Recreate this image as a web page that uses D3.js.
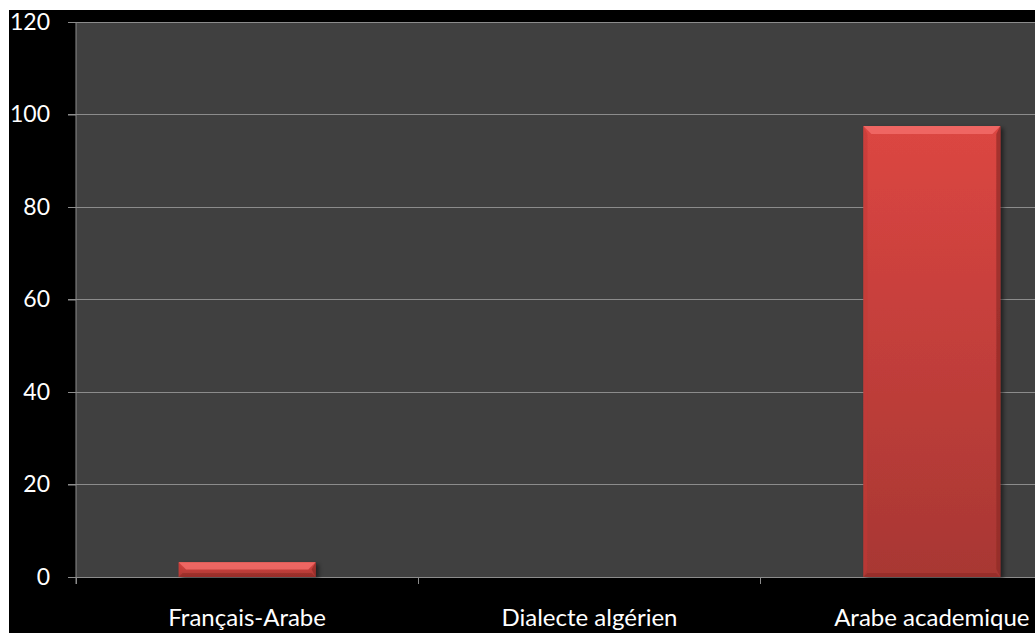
<!DOCTYPE html>
<html><head><meta charset="utf-8">
<script src="https://cdn.jsdelivr.net/npm/d3@7/dist/d3.min.js"></script>
<style>html,body{margin:0;padding:0;background:#fff;overflow:hidden}</style>
</head><body>
<svg id="c" width="1035" height="633"></svg>
<script>
const categories = ["Français-Arabe", "Dialecte algérien", "Arabe academique"];
const values = [3.2, 0, 97.5];
const yTicks = [0, 20, 40, 60, 80, 100, 120];

(function () {
const svg = d3.select("#c");
const W = 1035, H = 633;
const pL = 76, pR = 1103, pT = 22, pB = 577;
const font = "Lato, 'Open Sans', sans-serif";

svg.append("rect").attr("x", 9).attr("y", 10).attr("width", W - 9).attr("height", H - 10).attr("fill", "#000");

const x = d3.scaleBand().domain(categories).range([pL, pR]).paddingInner(0.6).paddingOuter(0.3);
const y = d3.scaleLinear().domain([0, 120]).range([pB, pT]);

svg.append("rect").attr("x", pL).attr("y", pT).attr("width", pR - pL).attr("height", pB - pT).attr("fill", "#404040");

const defs = svg.append("defs");
const g1 = defs.append("linearGradient").attr("id", "barGrad").attr("x1", 0).attr("y1", 0).attr("x2", 0).attr("y2", 1);
g1.append("stop").attr("offset", "0%").attr("stop-color", "#dc4642");
g1.append("stop").attr("offset", "100%").attr("stop-color", "#a83733");
const f = defs.append("filter").attr("id", "sh").attr("x", "-10%").attr("y", "-10%").attr("width", "130%").attr("height", "130%");
f.append("feDropShadow").attr("dx", 3).attr("dy", 2).attr("stdDeviation", 2).attr("flood-color", "#000").attr("flood-opacity", 0.5);

// gridlines
svg.append("g").selectAll("line").data(yTicks.filter(d => d > 0)).join("line")
  .attr("x1", pL - 8).attr("x2", pR).attr("y1", d => y(d)).attr("y2", d => y(d))
  .attr("stroke", "#8c8c8c").attr("stroke-width", 1).attr("shape-rendering", "crispEdges");

// y axis
const yAxis = d3.axisLeft(y).tickValues(yTicks).tickSize(8).tickPadding(18);
const ya = svg.append("g").attr("transform", `translate(${pL},0)`).call(yAxis);
ya.select(".domain").attr("stroke", "#8c8c8c").attr("d", `M0,${pT}V${pB + 7}`);
ya.selectAll(".tick line").attr("stroke", "#8c8c8c");
ya.selectAll(".tick text").attr("fill", "#fff").attr("font-family", font).attr("font-size", 23);

// x axis
const step = x.step();
const bounds = categories.map(c => x(c) - step * x.paddingInner() / 2).concat([pR]);
const xa = svg.append("g");
xa.append("line").attr("x1", pL).attr("x2", pR).attr("y1", pB).attr("y2", pB)
  .attr("stroke", "#8c8c8c").attr("shape-rendering", "crispEdges");
xa.selectAll("line.t").data(bounds).join("line").attr("class", "t")
  .attr("x1", d => d).attr("x2", d => d).attr("y1", pB).attr("y2", pB + 7)
  .attr("stroke", "#8c8c8c").attr("shape-rendering", "crispEdges");
xa.selectAll("text").data(categories).join("text")
  .attr("x", d => x(d) + x.bandwidth() / 2).attr("y", 626)
  .attr("text-anchor", "middle").attr("fill", "#fff")
  .attr("font-family", font).attr("font-size", 24)
  .text(d => d);

// bars with bevel
const bars = svg.append("g");
categories.forEach((c, i) => {
  const v = values[i];
  if (v <= 0) return;
  const x0 = x(c), x1 = x(c) + x.bandwidth();
  const y0 = y(v), y1 = y(0);
  const h = y1 - y0;
  const b = Math.min(8, h / 2);
  const g = bars.append("g").attr("filter", "url(#sh)");
  g.append("rect").attr("x", x0).attr("y", y0).attr("width", x1 - x0).attr("height", h).attr("fill", "url(#barGrad)");
  g.append("path").attr("d", `M${x0},${y0}L${x1},${y0}L${x1 - b},${y0 + b}L${x0 + b},${y0 + b}Z`).attr("fill", "#f26c68").attr("opacity", 0.85);
  g.append("path").attr("d", `M${x0},${y0}L${x0 + 4},${y0 + b}L${x0 + 4},${y1 - b}L${x0},${y1}Z`).attr("fill", "#c23a37").attr("opacity", 0.6);
  g.append("path").attr("d", `M${x1},${y0}L${x1 - 4},${y0 + b}L${x1 - 4},${y1 - b}L${x1},${y1}Z`).attr("fill", "#8e2a27").attr("opacity", 0.7);
  g.append("path").attr("d", `M${x0},${y1}L${x0 + 4},${y1 - Math.min(4, b)}L${x1 - 4},${y1 - Math.min(4, b)}L${x1},${y1}Z`).attr("fill", "#8e2a27").attr("opacity", 0.6);
});
})();
</script>
</body></html>
